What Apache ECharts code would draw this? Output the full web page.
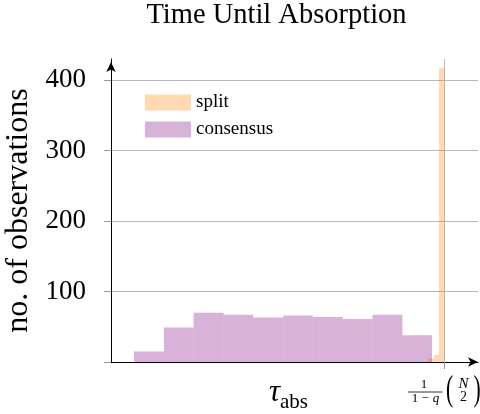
<!DOCTYPE html>
<html><head><meta charset="utf-8">
<script src="https://cdn.jsdelivr.net/npm/echarts@6/dist/echarts.min.js"></script>
<style>html,body{margin:0;padding:0;background:#fff}#c{width:480px;height:414px}</style>
</head><body><div id="c"></div>
<script>
// x in units of 1/(1-q)·C(N,2)
const consensusEdges = [0.069, 0.159, 0.248, 0.338, 0.427, 0.517, 0.606, 0.696, 0.785, 0.875, 0.964];
const consensusCounts = [15, 49, 70, 67, 63, 66, 64, 61, 67, 38];
const splitEdges = [0.953, 0.969, 0.985, 1.0];
const splitCounts = [5, 10, 417];
const yTicks = [0, 100, 200, 300, 400];
const yTickLabels = [100, 200, 300, 400];
const xTickValue = 1;

const SERIF = 'Liberation Serif';

function bins(edges, counts) { return counts.map((c, i) => [edges[i], edges[i + 1], c]); }

function renderBar(params, api) {
  const p0 = api.coord([api.value(0), api.value(2)]);
  const p1 = api.coord([api.value(1), 0]);
  return { type: 'rect', shape: { x: p0[0], y: p0[1], width: p1[0] - p0[0], height: p1[1] - p0[1] }, style: api.style() };
}

const chart = echarts.init(document.getElementById('c'), null, { renderer: 'canvas' });
const GRID_COLOR = '#b8b8b8';
chart.setOption({
  animation: false,
  backgroundColor: '#fff',
  textStyle: { fontFamily: SERIF },
  grid: { left: 111, right: 2, top: 59, bottom: 52, outerBoundsMode: 'none' },
  legend: {
    data: ['split', 'consensus'], orient: 'vertical', left: 145, top: 93, padding: 0,
    itemWidth: 46, itemHeight: 16, itemGap: 8, icon: 'rect',
    textStyle: { fontFamily: SERIF, fontSize: 19, color: '#000' }
  },
  xAxis: {
    type: 'value', min: 0, max: 1.102, interval: 1,
    axisLine: { show: true, symbol: ['none', 'arrow'], symbolSize: [7, 10], lineStyle: { color: '#000', width: 1 } },
    axisTick: { show: true, customValues: [xTickValue], length: 7, lineStyle: { color: '#999' } },
    axisLabel: { show: false },
    splitLine: { show: true, lineStyle: { color: GRID_COLOR, width: 1 } },
    name: '{t|τ}{s|abs}', nameLocation: 'middle', nameGap: 11,
    nameTextStyle: {
      fontFamily: SERIF,
      padding: [0, 12, 0, 0],
      rich: {
        t: { fontFamily: SERIF, fontStyle: 'italic', fontSize: 31, color: '#000' },
        s: { fontFamily: SERIF, fontSize: 21, color: '#000', padding: [19, 0, 0, 0] }
      }
    }
  },
  yAxis: {
    type: 'value', min: 0, max: 430, interval: 100,
    axisLine: { show: true, symbol: ['none', 'arrow'], symbolSize: [7, 10], symbolOffset: [0, -3], lineStyle: { color: '#000', width: 1 } },
    axisTick: { show: true, customValues: yTicks, length: 7, lineStyle: { color: '#999' } },
    axisLabel: { customValues: yTickLabels, margin: 25, fontFamily: SERIF, fontSize: 27, color: '#000' },
    splitLine: { show: true, lineStyle: { color: GRID_COLOR, width: 1 } },
    name: 'no. of observations', nameLocation: 'middle', nameGap: 69,
    nameTextStyle: { fontFamily: SERIF, fontSize: 32, color: '#000' }
  },
  series: [
    { type: 'custom', name: 'split', renderItem: renderBar, data: bins(splitEdges, splitCounts),
      encode: { x: [0, 1], y: 2 }, itemStyle: { color: 'rgba(255,128,0,0.3)' } },
    { type: 'custom', name: 'consensus', renderItem: renderBar, data: bins(consensusEdges, consensusCounts),
      encode: { x: [0, 1], y: 2 }, itemStyle: { color: 'rgba(128,0,128,0.3)' } }
  ]
});

const X = chart.convertToPixel({ xAxisIndex: 0 }, xTickValue);
const Y = chart.convertToPixel({ yAxisIndex: 0 }, 0);
const txt = (text, x, y, size, extra, elExtra) => Object.assign({ type: 'text', x: x, y: y, style: Object.assign({ text: text, font: size + 'px "' + SERIF + '"', fill: '#000', align: 'center', verticalAlign: 'middle' }, extra || {}) }, elExtra || {});
chart.setOption({
  graphic: [
    txt('Time Until Absorption', 276.5, 16, 28.5),
    txt('1', X - 20, Y + 23, 13),
    { type: 'line', shape: { x1: X - 36, y1: Y + 30, x2: X - 1.5, y2: Y + 30 }, style: { stroke: '#000', lineWidth: 0.8 } },
    txt('1 − ', X - 22, Y + 37, 13),
    txt('q', X - 8, Y + 37, 13, { font: 'italic 13px "' + SERIF + '"' }),
    txt('(', X + 5.5, Y + 29, 36, null, { scaleX: 0.6 }),
    txt(')', X + 33, Y + 29, 36, null, { scaleX: 0.6 }),
    txt('N', X + 19.5, Y + 22, 15, { font: 'italic 15px "' + SERIF + '"' }),
    txt('2', X + 19.5, Y + 35.5, 14)
  ]
});
</script></body></html>
